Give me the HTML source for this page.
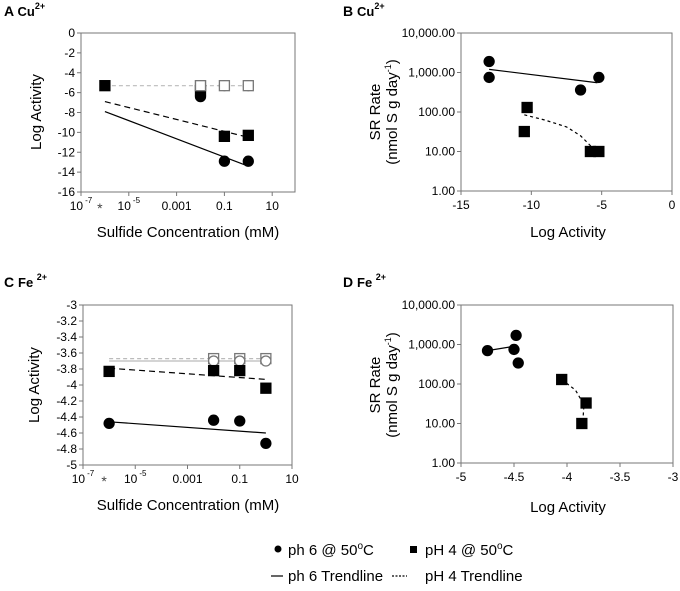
<!DOCTYPE html>
<html><head><meta charset="utf-8">
<style>
body{margin:0;background:#fff;width:680px;height:586px;overflow:hidden}
svg{font-family:"Liberation Sans",Arial,sans-serif}
</style></head>
<body>
<svg id="fig" width="680" height="586" xmlns="http://www.w3.org/2000/svg"></svg>
<script>
// ---------- data ----------
const conc = [1e-6, 0.01, 0.1, 1];
const aPh6 = [null, -6.4, -12.9, -12.9];
const aPh4 = [-5.3, -5.8, -10.4, -10.3];
const aOpen = [null, -5.3, -5.3, -5.3];
const aTrend6 = [-7.9, -13.4];
const aTrend4 = [-6.9, -10.5];
const aGrey = -5.3;

const bCircX = [-13, -13, -6.5, -5.2];
const bCircY = [1900, 750, 360, 750];
const bSqX = [-10.3, -10.5, -5.8, -5.2];
const bSqY = [130, 32, 10, 10];
const bTrend6X = [-13, -5.3];
const bTrend6Y = [1200, 550];
const bTrend4X = [-10.5, -9, -7.5, -6.5, -5.5];
const bTrend4Y = [85, 62, 42, 25, 11];

const cPh6 = [-4.48, -4.44, -4.45, -4.73];
const cPh4 = [-3.83, -3.82, -3.82, -4.04];
const cOpenSq = [null, -3.67, -3.67, -3.67];
const cOpenCi = [null, -3.70, -3.70, -3.70];
const cTrend6 = [-4.46, -4.60];
const cTrend4 = [-3.79, -3.93];

const dCircX = [-4.75, -4.5, -4.48, -4.46];
const dCircY = [700, 750, 1700, 340];
const dSqX = [-4.05, -3.82, -3.86];
const dSqY = [130, 33, 10];
const dTrend6X = [-4.75, -4.5];
const dTrend6Y = [700, 900];
const dTrend4X = [-4.05, -3.92, -3.84, -3.85];
const dTrend4Y = [130, 70, 30, 12];

const logTicksA = [-7, -5, -3, -1, 1];
const logTickLabels = ["10", "10", "0.001", "0.1", "10"];
const logTickSups = ["-7", "-5", "", "", ""];
const yTicksA = [0, -2, -4, -6, -8, -10, -12, -14, -16];
const yTicksC = [-3, -3.2, -3.4, -3.6, -3.8, -4, -4.2, -4.4, -4.6, -4.8, -5];
const yTicksRate = [1, 10, 100, 1000, 10000];
const yRateLabels = ["1.00", "10.00", "100.00", "1,000.00", "10,000.00"];
const xTicksB = [-15, -10, -5, 0];
const xTicksD = [-5, -4.5, -4, -3.5, -3];

// ---------- helpers ----------
const NS = "http://www.w3.org/2000/svg";
const svg = document.getElementById('fig');
function mk(tag, attrs, parent, txt){
  const e = document.createElementNS(NS, tag);
  for (const k in attrs) e.setAttribute(k, attrs[k]);
  if (txt !== undefined) e.textContent = txt;
  (parent || svg).appendChild(e);
  return e;
}
function lin(d0, d1, r0, r1){ return v => r0 + (v - d0) / (d1 - d0) * (r1 - r0); }
function lg(d0, d1, r0, r1){ return v => r0 + (Math.log10(v) - d0) / (d1 - d0) * (r1 - r0); }

function frame(g, x0, y0, x1, y1){
  const r = mk('rect', {x:x0, y:y0, width:x1-x0, height:y1-y0, fill:'none', stroke:'#777', 'stroke-width':1}, g);
  
  
}
function circ(g, x, y, open){
  const c = mk('circle', {cx:x, cy:y, r:5, fill: open ? '#fff' : '#000', stroke: open ? '#777' : '#000', 'stroke-width':1.3}, g);
  
  
}
function sq(g, x, y, open){
  const s = mk('rect', {x:x-5, y:y-5, width:10, height:10, fill: open ? '#fff' : '#000', stroke: open ? '#777' : '#000', 'stroke-width':1.3}, g);
  
  
}
function pline(g, xs, ys, dash, color, name){
  const p = mk('polyline', {points: xs.map((x,i)=>x+','+ys[i]).join(' '), fill:'none', stroke: color || '#000', 'stroke-width':1.2, 'stroke-dasharray': dash || 'none'}, g);
  
  
}
function title(g, x, y, letter, ion){
  const t = mk('text', {x:x, y:y, 'font-size':14, 'font-weight':'bold'}, g);
  
  
  mk('tspan', {}, t, letter + ' ');
  mk('tspan', {'font-size':13}, t, ion);
  mk('tspan', {'font-size':9, dy:-7}, t, '2+');
}
function logX(g, sx, yb){
  logTicksA.forEach((t, i) => {
    const x = sx(Math.pow(10, t));
    mk('line', {x1:x, y1:yb, x2:x, y2:yb+4, stroke:'#777'}, g);
    const tx = mk('text', {x:x, y:yb+18, 'font-size':12, 'text-anchor':'middle'}, g);
    
    
    mk('tspan', {}, tx, logTickLabels[i]);
    if (logTickSups[i]) mk('tspan', {'font-size':8, dy:-7, dx:2}, tx, logTickSups[i]);
  });
  const st = mk('text', {x:sx(1e-6)-5, y:yb+21, 'font-size':14, fill:'#444', 'text-anchor':'middle'}, g, '*');
  
  
}
function yTicks(g, ticks, sy, xl, fmt){
  ticks.forEach((t, i) => {
    const y = sy(t);
    mk('line', {x1:xl-4, y1:y, x2:xl, y2:y, stroke:'#777'}, g);
    const tx = mk('text', {x:xl-6, y:y+4, 'font-size':12, 'text-anchor':'end'}, g, fmt(t, i));
    
    
  });
}
function xTicksLin(g, ticks, sx, yb){
  ticks.forEach(t => {
    const x = sx(t);
    mk('line', {x1:x, y1:yb, x2:x, y2:yb+4, stroke:'#777'}, g);
    const tx = mk('text', {x:x, y:yb+18, 'font-size':12, 'text-anchor':'middle'}, g, String(t));
    
    
  });
}
function axTitle(g, x, y, text, rot, name){
  const t = mk('text', {x:x, y:y, 'font-size':15, 'text-anchor':'middle', transform: rot ? `rotate(-90 ${x} ${y})` : ''}, g, text);
  
  
  return t;
}
function rateTitle(g, x, y){
  const t = mk('text', {x:x, y:y, 'font-size':15, 'text-anchor':'middle', transform:`rotate(-90 ${x} ${y})`}, g, 'SR Rate');
  
  
  const x2 = x + 17;
  const t2 = mk('text', {x:x2, y:y, 'font-size':15, 'text-anchor':'middle', transform:`rotate(-90 ${x2} ${y})`}, g);
  
  
  mk('tspan', {}, t2, '(nmol S g day');
  mk('tspan', {'font-size':9, dy:-6}, t2, '-1');
  mk('tspan', {dy:6}, t2, ')');
}

// ---------- Panel A ----------
(function(){
  const g = mk('g', {});  
  const x0=81, x1=295, y0=33, y1=192;
  const sx = lg(-7, -7 + (x1-x0)/23.9, x0, x1), sy = lin(0, -16, y0, y1);
  frame(g, x0, y0, x1, y1);
  title(g, 4, 16, 'A', 'Cu');
  yTicks(g, yTicksA, sy, x0, t=>String(t));
  logX(g, sx, y1);
  axTitle(g, 41, 112, 'Log Activity', true, 'y-axis-title');
  axTitle(g, 188, 237, 'Sulfide Concentration (mM)', false, 'x-axis-title');
  pline(g, [sx(1e-6), sx(1)], [sy(aGrey), sy(aGrey)], '4,3', '#bbb', 'open-trendline');
  pline(g, [sx(1e-6), sx(1)], aTrend6.map(sy), '', '#000', 'ph6-trendline');
  pline(g, [sx(1e-6), sx(1)], aTrend4.map(sy), '6,4', '#000', 'ph4-trendline');
  conc.forEach((c,i)=>{ if(aOpen[i]!==null){ circ(g, sx(c), sy(aOpen[i]), true); sq(g, sx(c), sy(aOpen[i]), true);} });
  conc.forEach((c,i)=>{ if(aPh6[i]!==null) circ(g, sx(c), sy(aPh6[i])); });
  conc.forEach((c,i)=>{ if(aPh4[i]!==null && i!==1) sq(g, sx(c), sy(aPh4[i])); });
  sq(g, sx(conc[1]), sy(aPh4[1]));
  sq(g, sx(conc[1]), sy(aOpen[1]), true);
})();

// ---------- Panel B ----------
(function(){
  const g = mk('g', {});  
  const x0=461, x1=672, y0=33, y1=191;
  const sx = lin(-15, 0, x0, x1), sy = lg(0, 4, y1, y0);
  frame(g, x0, y0, x1, y1);
  title(g, 343, 16, 'B', 'Cu');
  yTicks(g, yTicksRate, sy, x0, (t,i)=>yRateLabels[i]);
  xTicksLin(g, xTicksB, sx, y1);
  rateTitle(g, 380, 112);
  axTitle(g, 568, 237, 'Log Activity', false, 'x-axis-title');
  pline(g, bTrend6X.map(sx), bTrend6Y.map(sy), '', '#000', 'ph6-trendline');
  pline(g, bTrend4X.map(sx), bTrend4Y.map(sy), '3,3', '#000', 'ph4-trendline');
  bCircX.forEach((x,i)=>circ(g, sx(x), sy(bCircY[i])));
  bSqX.forEach((x,i)=>sq(g, sx(x), sy(bSqY[i])));
})();

// ---------- Panel C ----------
(function(){
  const g = mk('g', {});  
  const x0=83, x1=292, y0=305, y1=465;
  const sx = lg(-7, 1, x0, x1), sy = lin(-3, -5, y0, y1);
  frame(g, x0, y0, x1, y1);
  title(g, 4, 287, 'C', 'Fe ');
  yTicks(g, yTicksC, sy, x0, t=>String(Math.round(t*10)/10));
  logX(g, sx, y1);
  axTitle(g, 39, 385, 'Log Activity', true, 'y-axis-title');
  axTitle(g, 188, 510, 'Sulfide Concentration (mM)', false, 'x-axis-title');
  pline(g, [sx(1e-6), sx(1)], [sy(-3.67), sy(-3.67)], '4,3', '#bbb', 'open-square-trendline');
  pline(g, [sx(1e-6), sx(1)], [sy(-3.70), sy(-3.70)], '', '#bbb', 'open-circle-trendline');
  pline(g, [sx(1e-6), sx(1)], cTrend6.map(sy), '', '#000', 'ph6-trendline');
  pline(g, [sx(1e-6), sx(1)], cTrend4.map(sy), '6,4', '#000', 'ph4-trendline');
  conc.forEach((c,i)=>{ if(cOpenSq[i]!==null) sq(g, sx(c), sy(cOpenSq[i]), true); });
  conc.forEach((c,i)=>{ if(cOpenCi[i]!==null) circ(g, sx(c), sy(cOpenCi[i]), true); });
  conc.forEach((c,i)=>circ(g, sx(c), sy(cPh6[i])));
  conc.forEach((c,i)=>sq(g, sx(c), sy(cPh4[i])));
})();

// ---------- Panel D ----------
(function(){
  const g = mk('g', {});  
  const x0=461, x1=673, y0=305, y1=463;
  const sx = lin(-5, -3, x0, x1), sy = lg(0, 4, y1, y0);
  frame(g, x0, y0, x1, y1);
  title(g, 343, 287, 'D', 'Fe ');
  yTicks(g, yTicksRate, sy, x0, (t,i)=>yRateLabels[i]);
  xTicksLin(g, xTicksD, sx, y1);
  rateTitle(g, 380, 385);
  axTitle(g, 568, 512, 'Log Activity', false, 'x-axis-title');
  pline(g, dTrend6X.map(sx), dTrend6Y.map(sy), '', '#000', 'ph6-trendline');
  pline(g, dTrend4X.map(sx), dTrend4Y.map(sy), '3,3', '#000', 'ph4-trendline');
  dCircX.forEach((x,i)=>circ(g, sx(x), sy(dCircY[i])));
  dSqX.forEach((x,i)=>sq(g, sx(x), sy(dSqY[i])));
})();

// ---------- Legend ----------
(function(){
  const g = mk('g', {});  
  const c = mk('circle', {cx:278, cy:549, r:3.5, fill:'#000'}, g);
   
  let t = mk('text', {x:288, y:555, 'font-size':15}, g);
   
  mk('tspan', {}, t, 'ph 6 @ 50'); mk('tspan', {'font-size':10, dy:-6}, t, 'o'); mk('tspan', {dy:6}, t, 'C');
  const s = mk('rect', {x:410, y:546, width:7, height:7, fill:'#000'}, g);
   
  t = mk('text', {x:425, y:555, 'font-size':15}, g);
   
  mk('tspan', {}, t, 'pH 4 @ 50'); mk('tspan', {'font-size':10, dy:-6}, t, 'o'); mk('tspan', {dy:6}, t, 'C');
  const l1 = mk('line', {x1:271, y1:576, x2:283, y2:576, stroke:'#000', 'stroke-width':1.2}, g);
   
  t = mk('text', {x:288, y:581, 'font-size':15}, g, 'ph 6 Trendline');
   
  const l2 = mk('line', {x1:392, y1:576, x2:407, y2:576, stroke:'#000', 'stroke-width':1.2, 'stroke-dasharray':'2,1.5'}, g);
   
  t = mk('text', {x:425, y:581, 'font-size':15}, g, 'pH 4 Trendline');
   
})();
</script>
</body></html>
